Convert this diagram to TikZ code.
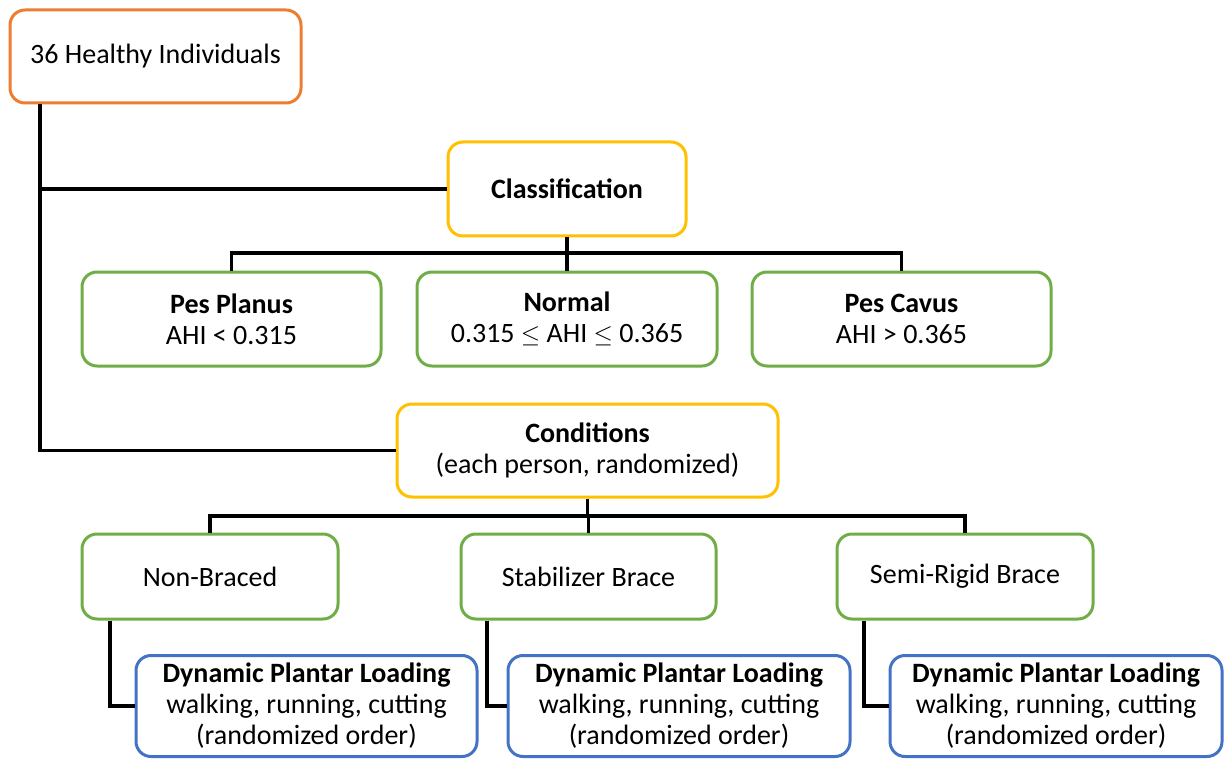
\documentclass[tikz,border=0pt]{standalone}
\usepackage{fontspec}
\setmainfont{Carlito}
\definecolor{corange}{HTML}{ED7D31}
\definecolor{cyellow}{HTML}{FFC000}
\definecolor{cgreen}{HTML}{70AD47}
\definecolor{cblue}{HTML}{4472C4}
\begin{document}
\begin{tikzpicture}[x=1pt,y=-1pt,
  box/.style={draw, line width=3pt, rounded corners=15pt, fill=white, align=center, inner sep=0pt,
    font=\fontsize{28}{31}\selectfont},
  obox/.style={box, draw=corange},
  ybox/.style={box, draw=cyellow},
  gbox/.style={box, draw=cgreen},
  bbox/.style={box, draw=cblue},
  conn/.style={draw=black, line width=3.2pt}]
\useasboundingbox (0,0) rectangle (1225,759);
% nodes
\node[obox, minimum width=291pt, minimum height=93pt] (hi) at (155.5,56.5) {36 Healthy Individuals};
\node[ybox, minimum width=238pt, minimum height=94pt] (cl) at (567,189) {\textbf{Classification}};
\node[gbox, minimum width=299pt, minimum height=94pt] (pp) at (231.5,319) {\textbf{Pes Planus}\\AHI < 0.315};
\node[gbox, minimum width=300pt, minimum height=94pt] (no) at (567,319) {\textbf{Normal}\\0.315 $\leq$ AHI $\leq$ 0.365};
\node[gbox, minimum width=299pt, minimum height=94pt] (pc) at (901.5,319) {\textbf{Pes Cavus}\\AHI > 0.365};
\node[ybox, minimum width=381pt, minimum height=93pt] (co) at (587.5,450.5) {\textbf{Conditions}\\(each person, randomized)};
\node[gbox, minimum width=256pt, minimum height=85pt] (nb) at (210,576.5) {Non-Braced};
\node[gbox, minimum width=255pt, minimum height=85pt] (sb) at (588.5,576.5) {Stabilizer Brace};
\node[gbox, minimum width=256pt, minimum height=85pt] (sr) at (965,576.5) {Semi-Rigid Brace};
\node[bbox, minimum width=341pt, minimum height=101pt] (d1) at (306.5,706) {\textbf{Dynamic Plantar Loading}\\walking, running, cutting\\(randomized order)};
\node[bbox, minimum width=342pt, minimum height=101pt] (d2) at (679,706) {\textbf{Dynamic Plantar Loading}\\walking, running, cutting\\(randomized order)};
\node[bbox, minimum width=332pt, minimum height=101pt] (d3) at (1056,706) {\textbf{Dynamic Plantar Loading}\\walking, running, cutting\\(randomized order)};
% connectors
\coordinate (hx) at (40,0);
\draw[conn] (hi.south -| hx) -- (hx |- co.west) -- (co.west);
\draw[conn] (hx |- cl.west) -- (cl.west);
\coordinate (ya) at (0,253);
\draw[conn] (cl.south) -- (cl.south |- ya);
\draw[conn] (pp.north) -- (pp.north |- ya) -- (pc.north |- ya) -- (pc.north);
\draw[conn] (no.north) -- (no.north |- ya);
\coordinate (yb) at (0,516);
\draw[conn] (co.south) -- (co.south |- yb);
\draw[conn] (nb.north) -- (nb.north |- yb) -- (sr.north |- yb) -- (sr.north);
\draw[conn] (sb.north) -- (sb.north |- yb);
\coordinate (x1) at (110,0);
\coordinate (x2) at (487,0);
\coordinate (x3) at (864,0);
\draw[conn] (nb.south -| x1) -- (x1 |- d1.west) -- (d1.west);
\draw[conn] (sb.south -| x2) -- (x2 |- d2.west) -- (d2.west);
\draw[conn] (sr.south -| x3) -- (x3 |- d3.west) -- (d3.west);
\end{tikzpicture}
\end{document}
